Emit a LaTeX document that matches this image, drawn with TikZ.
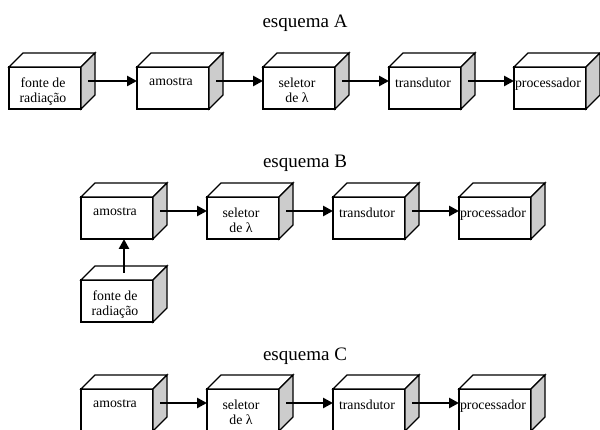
\documentclass[tikz,border=0pt]{standalone}
\usepackage{fontspec}
\setmainfont{Liberation Serif}
\usetikzlibrary{arrows.meta,calc}

\definecolor{sidegray}{gray}{0.8}

\tikzset{
  face/.style={draw=black, line width=1.3pt, line join=miter},
  frontface/.style={face, fill=white, minimum width=72pt, minimum height=42pt,
    inner sep=0pt, outer sep=0pt},
  boxtext/.style={anchor=north, inner sep=0pt, align=center,
    font=\fontsize{13.8}{15}\selectfont},
  title/.style={anchor=base, inner sep=0pt, font=\fontsize{19}{22}\selectfont},
  flow/.style={line width=2.6pt, -{Triangle[length=10pt,width=10pt]}},
}

% A box drawn as a cube: front face (named #1), top face and shaded side face.
% #2 = left edge of the front face, #3 = its top edge measured from the page top.
\newcommand{\cubebox}[4]{%
  \node[frontface, anchor=north west] (#1) at (#2, 430-#3) {};
  \filldraw[face, fill=white] (#1.north west) -- ++(14,14) -- ++(72,0)
    -- (#1.north east) -- cycle;
  \filldraw[face, fill=sidegray] (#1.north east) -- ++(14,14) -- ++(0,-42)
    -- (#1.south east) -- cycle;
  \node[boxtext] (#1-t) at ([xshift=-2pt,yshift=-10.5pt]#1.north) {#4};
  \coordinate (#1-side) at ([xshift=7pt,yshift=7pt]#1.east);
  \coordinate (#1-top) at ([xshift=7pt,yshift=7pt]#1.north);
}

\begin{document}
\begin{tikzpicture}[x=1pt, y=1pt]
\useasboundingbox (0,0) rectangle (600,430);

% ---- esquema A ----
\node[title] (tA) at (305, 430-28) {esquema A};
\cubebox{a1}{9}{67}{fonte de\\radiação}
\cubebox{a2}{137}{67}{amostra}
\cubebox{a3}{263}{67}{seletor\\de λ}
\cubebox{a4}{389}{67}{transdutor}
\cubebox{a5}{514}{67}{processador}
\draw[flow] (a1-side) -- (a1-side -| a2.west);
\draw[flow] (a2-side) -- (a2-side -| a3.west);
\draw[flow] (a3-side) -- (a3-side -| a4.west);
\draw[flow] (a4-side) -- (a4-side -| a5.west);

% ---- esquema B ----
\node[title] (tB) at (305, 430-168) {esquema B};
\cubebox{b1}{81}{197}{amostra}
\cubebox{b2}{207}{197}{seletor\\de λ}
\cubebox{b3}{333}{197}{transdutor}
\cubebox{b4}{459}{197}{processador}
\cubebox{b0}{81}{280}{fonte de\\radiação}
\draw[flow] (b0-top) -- (b0-top |- b1.south);
\draw[flow] (b1-side) -- (b1-side -| b2.west);
\draw[flow] (b2-side) -- (b2-side -| b3.west);
\draw[flow] (b3-side) -- (b3-side -| b4.west);

% ---- esquema C ----
\node[title] (tC) at (305, 430-361) {esquema C};
\cubebox{c1}{81}{389}{amostra}
\cubebox{c2}{207}{389}{seletor\\de λ}
\cubebox{c3}{333}{389}{transdutor}
\cubebox{c4}{459}{389}{processador}
\draw[flow] (c1-side) -- (c1-side -| c2.west);
\draw[flow] (c2-side) -- (c2-side -| c3.west);
\draw[flow] (c3-side) -- (c3-side -| c4.west);
\end{tikzpicture}
\end{document}
